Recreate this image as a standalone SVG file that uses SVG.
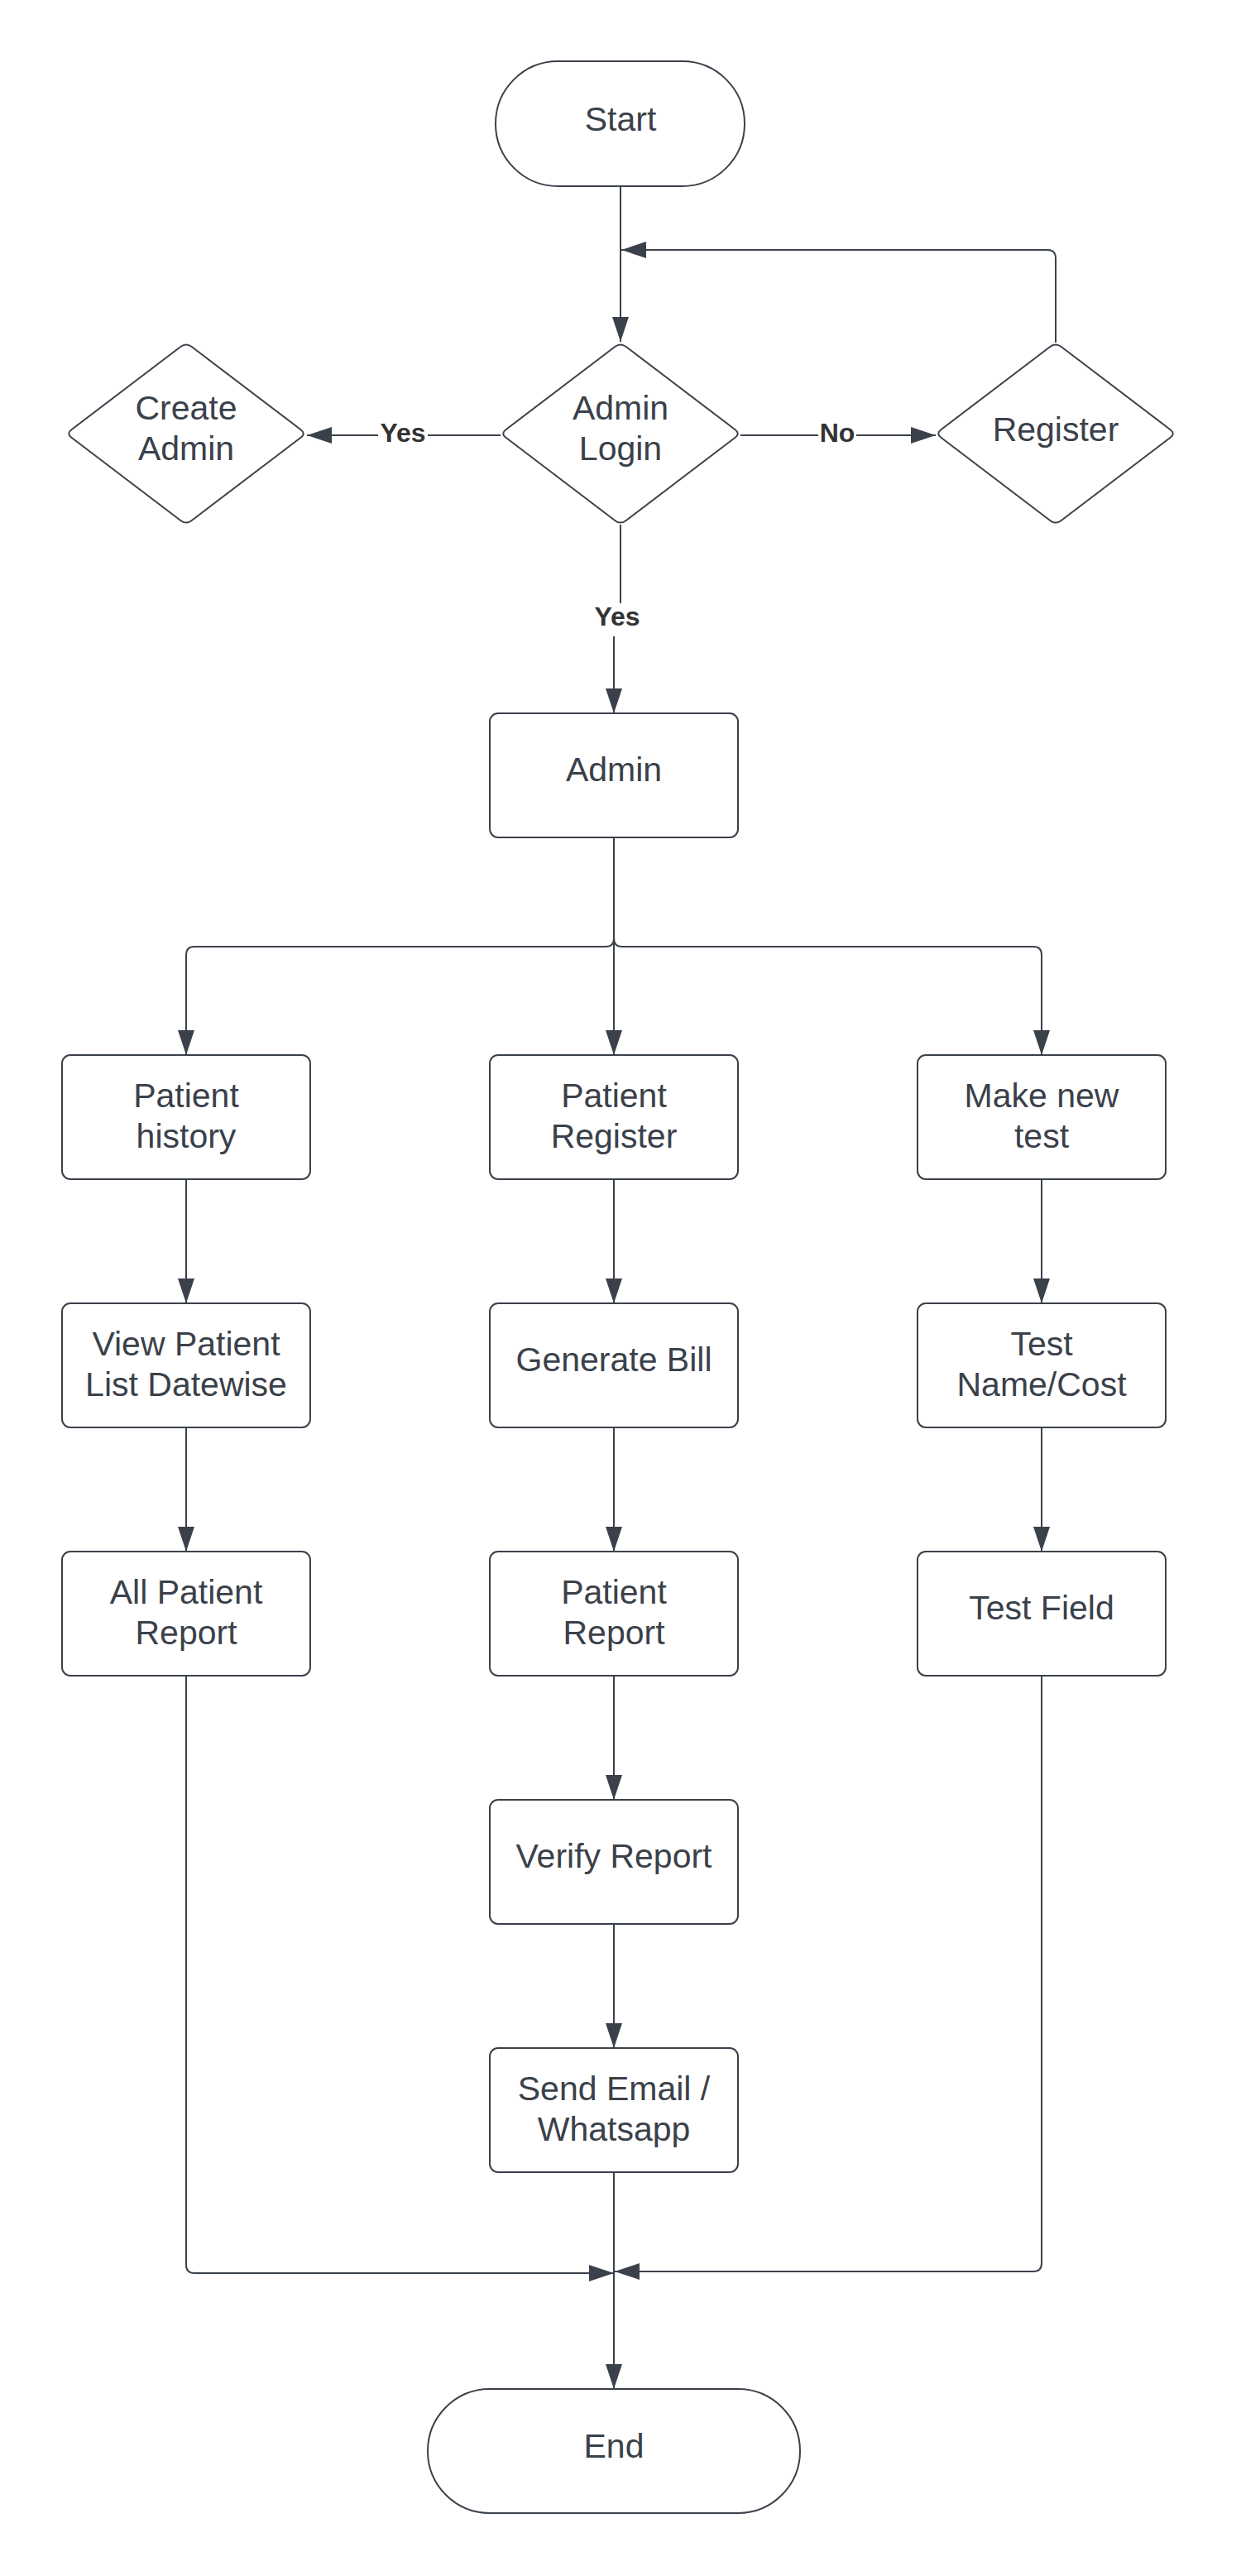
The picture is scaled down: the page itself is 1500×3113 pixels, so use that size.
<svg xmlns="http://www.w3.org/2000/svg" width="1500" height="3113" viewBox="0 0 1500 3113">
  <style>
    .shape { fill: #ffffff; stroke: #3a414a; stroke-width: 2; }
    .conn { fill: none; stroke: #3a414a; stroke-width: 2; }
    .lbl { font-family: "Liberation Sans", Arial, sans-serif; font-size: 41px; fill: #3a414a; text-anchor: middle; }
    .elbl { font-family: "Liberation Sans", Arial, sans-serif; font-size: 32px; font-weight: bold; fill: #333333; text-anchor: middle; }
  </style>
  <defs>
    <marker id="arrow" markerUnits="userSpaceOnUse" markerWidth="30" markerHeight="20" refX="30" refY="10" orient="auto">
      <path d="M0 0 L30 10 L0 20 Z" fill="#3a414a"/>
    </marker>
    <path id="dia" d="M-6.4 -105.2 Q0 -110 6.4 -105.2 L138.6 -4.8 Q145 0 138.6 4.8 L6.4 105.2 Q0 110 -6.4 105.2 L-138.6 4.8 Q-145 0 -138.6 -4.8 Z"/>
  </defs>
  <rect width="1500" height="3113" fill="#ffffff"/>

  <g id="connectors">
    <path class="conn" d="M750 225 V413" marker-end="url(#arrow)"/>
    <path class="conn" d="M1276 414 V312 Q1276 302 1266 302 H751" marker-end="url(#arrow)"/>
    <path class="conn" d="M605 526 H517"/>
    <path class="conn" d="M457 526 H371" marker-end="url(#arrow)"/>
    <path class="conn" d="M895 526 H989"/>
    <path class="conn" d="M1035 526 H1131" marker-end="url(#arrow)"/>
    <path class="conn" d="M750 634 V729"/>
    <path class="conn" d="M742 769 V862" marker-end="url(#arrow)"/>
    <path class="conn" d="M742 1012 V1275" marker-end="url(#arrow)"/>
    <path class="conn" d="M742 1134 Q742 1144 732 1144 H235 Q225 1144 225 1154 V1275" marker-end="url(#arrow)"/>
    <path class="conn" d="M742 1134 Q742 1144 752 1144 H1249 Q1259 1144 1259 1154 V1275" marker-end="url(#arrow)"/>
    <path class="conn" d="M225 1425 V1575" marker-end="url(#arrow)"/>
    <path class="conn" d="M225 1725 V1875" marker-end="url(#arrow)"/>
    <path class="conn" d="M742 1425 V1575" marker-end="url(#arrow)"/>
    <path class="conn" d="M742 1725 V1875" marker-end="url(#arrow)"/>
    <path class="conn" d="M742 2025 V2175" marker-end="url(#arrow)"/>
    <path class="conn" d="M742 2325 V2475" marker-end="url(#arrow)"/>
    <path class="conn" d="M742 2625 V2887" marker-end="url(#arrow)"/>
    <path class="conn" d="M1259 1425 V1575" marker-end="url(#arrow)"/>
    <path class="conn" d="M1259 1725 V1875" marker-end="url(#arrow)"/>
    <path class="conn" d="M225 2025 V2737 Q225 2747 235 2747 H742" marker-end="url(#arrow)"/>
    <path class="conn" d="M1259 2025 V2735 Q1259 2745 1249 2745 H743" marker-end="url(#arrow)"/>
    <text class="elbl" x="487" y="534">Yes</text>
    <text class="elbl" x="1012" y="534">No</text>
    <text class="elbl" x="746" y="756">Yes</text>
  </g>

  <g id="start">
    <rect class="shape" x="599" y="74" width="301" height="151" rx="75.5" ry="75.5"/>
    <text class="lbl" x="750" y="158">Start</text>
  </g>
  <g id="admin-login">
    <use href="#dia" class="shape" x="750" y="524"/>
    <text class="lbl" x="750" y="507">Admin</text>
    <text class="lbl" x="750" y="556">Login</text>
  </g>
  <g id="create-admin">
    <use href="#dia" class="shape" x="225" y="524"/>
    <text class="lbl" x="225" y="507">Create</text>
    <text class="lbl" x="225" y="556">Admin</text>
  </g>
  <g id="register">
    <use href="#dia" class="shape" x="1276" y="524"/>
    <text class="lbl" x="1276" y="533">Register</text>
  </g>
  <g id="admin">
    <rect class="shape" x="592" y="862" width="300" height="150" rx="10"/>
    <text class="lbl" x="742" y="944">Admin</text>
  </g>
  <g id="patient-history">
    <rect class="shape" x="75" y="1275" width="300" height="150" rx="10"/>
    <text class="lbl" x="225" y="1338">Patient</text>
    <text class="lbl" x="225" y="1387">history</text>
  </g>
  <g id="patient-register">
    <rect class="shape" x="592" y="1275" width="300" height="150" rx="10"/>
    <text class="lbl" x="742" y="1338">Patient</text>
    <text class="lbl" x="742" y="1387">Register</text>
  </g>
  <g id="make-new-test">
    <rect class="shape" x="1109" y="1275" width="300" height="150" rx="10"/>
    <text class="lbl" x="1259" y="1338">Make new</text>
    <text class="lbl" x="1259" y="1387">test</text>
  </g>
  <g id="view-patient-list">
    <rect class="shape" x="75" y="1575" width="300" height="150" rx="10"/>
    <text class="lbl" x="225" y="1638">View Patient</text>
    <text class="lbl" x="225" y="1687">List Datewise</text>
  </g>
  <g id="generate-bill">
    <rect class="shape" x="592" y="1575" width="300" height="150" rx="10"/>
    <text class="lbl" x="742" y="1657">Generate Bill</text>
  </g>
  <g id="test-name-cost">
    <rect class="shape" x="1109" y="1575" width="300" height="150" rx="10"/>
    <text class="lbl" x="1259" y="1638">Test</text>
    <text class="lbl" x="1259" y="1687">Name/Cost</text>
  </g>
  <g id="all-patient-report">
    <rect class="shape" x="75" y="1875" width="300" height="150" rx="10"/>
    <text class="lbl" x="225" y="1938">All Patient</text>
    <text class="lbl" x="225" y="1987">Report</text>
  </g>
  <g id="patient-report">
    <rect class="shape" x="592" y="1875" width="300" height="150" rx="10"/>
    <text class="lbl" x="742" y="1938">Patient</text>
    <text class="lbl" x="742" y="1987">Report</text>
  </g>
  <g id="test-field">
    <rect class="shape" x="1109" y="1875" width="300" height="150" rx="10"/>
    <text class="lbl" x="1259" y="1957">Test Field</text>
  </g>
  <g id="verify-report">
    <rect class="shape" x="592" y="2175" width="300" height="150" rx="10"/>
    <text class="lbl" x="742" y="2257">Verify Report</text>
  </g>
  <g id="send-email">
    <rect class="shape" x="592" y="2475" width="300" height="150" rx="10"/>
    <text class="lbl" x="742" y="2538">Send Email /</text>
    <text class="lbl" x="742" y="2587">Whatsapp</text>
  </g>
  <g id="end">
    <rect class="shape" x="517" y="2887" width="450" height="150" rx="75" ry="75"/>
    <text class="lbl" x="742" y="2970">End</text>
  </g>
</svg>
